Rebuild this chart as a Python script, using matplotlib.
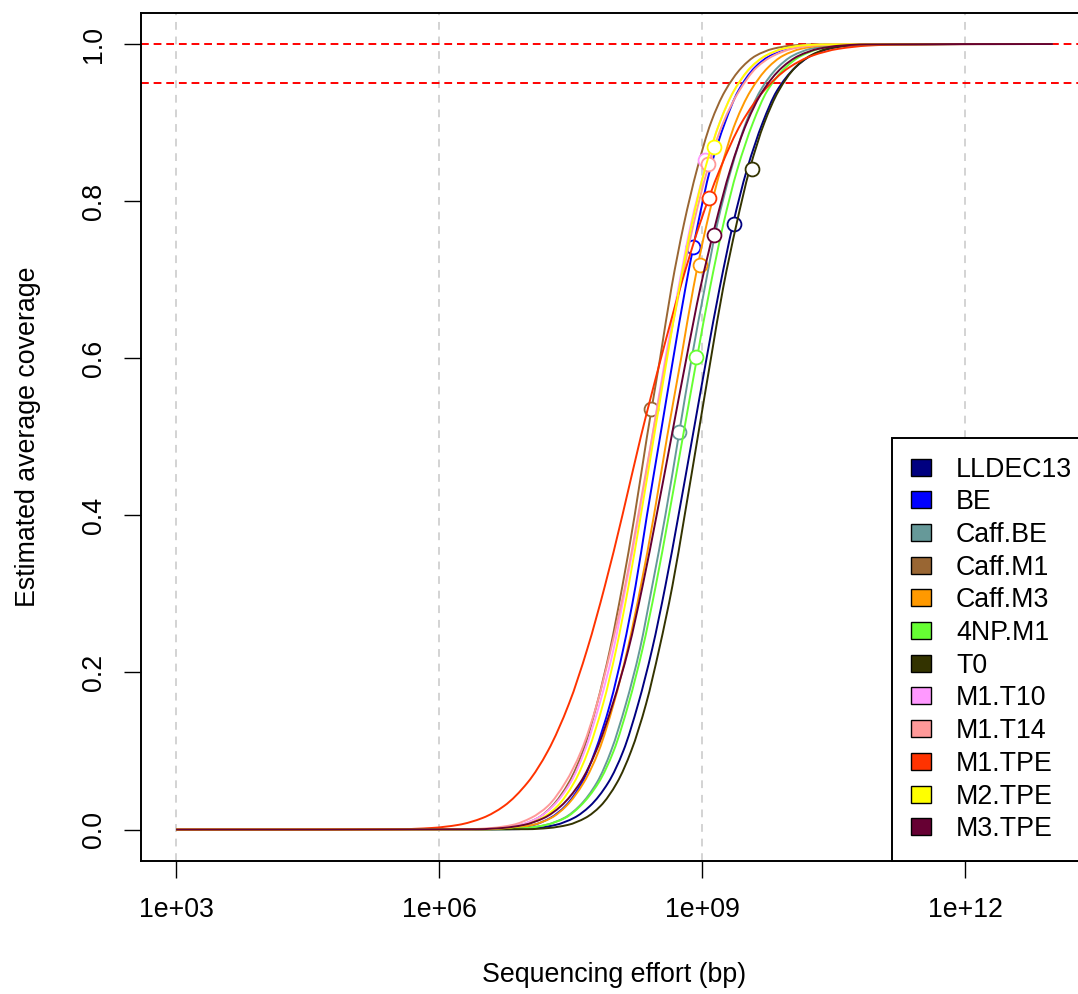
import numpy as np
import matplotlib
matplotlib.use('Agg')
import matplotlib.pyplot as plt
from matplotlib.patches import Patch, PathPatch
from matplotlib.path import Path
from matplotlib.ticker import NullLocator

plt.rcParams['font.family'] = ['Liberation Sans', 'DejaVu Sans']

samples = ['LLDEC13', 'BE', 'Caff.BE', 'Caff.M1', 'Caff.M3', '4NP.M1',
           'T0', 'M1.T10', 'M1.T14', 'M1.TPE', 'M2.TPE', 'M3.TPE']
colours = ['#000080', '#0000FF', '#669999', '#996633', '#FF9900', '#66FF33',
           '#333300', '#FF99FF', '#FF9999', '#FF3300', '#FFFF00', '#660033']

levels = [0.0005, 0.002, 0.006, 0.015, 0.03, 0.06, 0.1, 0.16, 0.23, 0.31, 0.4,
          0.5, 0.6, 0.69, 0.77, 0.84, 0.9, 0.94, 0.97, 0.985, 0.994, 0.998, 0.9995]

lldec13 = [6.85, 7.11, 7.33, 7.54, 7.72, 7.93, 8.10, 8.27, 8.43, 8.58, 8.73, 8.89,
           9.05, 9.20, 9.35, 9.51, 9.69, 9.85, 10.06, 10.24, 10.45, 10.67, 10.93]
be = [6.63, 6.87, 7.08, 7.27, 7.44, 7.63, 7.78, 7.95, 8.10, 8.24, 8.37, 8.52,
      8.67, 8.81, 8.95, 9.09, 9.26, 9.41, 9.60, 9.77, 9.96, 10.18, 10.41]
caff_be = [6.76, 7.00, 7.22, 7.43, 7.60, 7.80, 7.96, 8.13, 8.29, 8.43, 8.58, 8.73,
           8.88, 9.03, 9.17, 9.33, 9.50, 9.66, 9.86, 10.03, 10.24, 10.46, 10.71]
caff_m1 = [6.49, 6.72, 6.93, 7.13, 7.29, 7.48, 7.64, 7.80, 7.95, 8.09, 8.23, 8.37,
           8.52, 8.65, 8.79, 8.94, 9.10, 9.26, 9.45, 9.61, 9.81, 10.02, 10.25]
caff_m3 = [6.59, 6.84, 7.07, 7.28, 7.45, 7.65, 7.82, 7.99, 8.15, 8.30, 8.45, 8.60,
           8.76, 8.90, 9.05, 9.21, 9.38, 9.55, 9.75, 9.92, 10.13, 10.36, 10.61]
np4_m1 = [6.74, 7.00, 7.22, 7.44, 7.61, 7.82, 7.99, 8.16, 8.32, 8.47, 8.62, 8.78,
          8.94, 9.09, 9.24, 9.40, 9.58, 9.74, 9.95, 10.13, 10.34, 10.56, 10.82]
t0 = [7.01, 7.25, 7.47, 7.67, 7.84, 8.03, 8.19, 8.36, 8.51, 8.66, 8.80, 8.95,
      9.10, 9.24, 9.39, 9.54, 9.71, 9.87, 10.06, 10.23, 10.43, 10.65, 10.89]
m1_t10 = [6.46, 6.70, 6.92, 7.13, 7.30, 7.50, 7.66, 7.83, 7.99, 8.13, 8.28, 8.43,
          8.58, 8.73, 8.87, 9.03, 9.20, 9.36, 9.56, 9.73, 9.94, 10.16, 10.41]
m1_t14 = [6.34, 6.60, 6.84, 7.05, 7.24, 7.44, 7.62, 7.80, 7.96, 8.12, 8.27, 8.43,
          8.59, 8.75, 8.90, 9.06, 9.24, 9.42, 9.62, 9.81, 10.03, 10.26, 10.52]
m1_tpe = [5.57, 5.91, 6.22, 6.50, 6.74, 7.01, 7.24, 7.48, 7.69, 7.89, 8.09, 8.30,
          8.53, 8.75, 8.97, 9.20, 9.45, 9.70, 9.99, 10.25, 10.56, 10.89, 11.26]
m2_tpe = [6.53, 6.77, 6.98, 7.18, 7.35, 7.54, 7.70, 7.87, 8.02, 8.16, 8.30, 8.45,
          8.60, 8.74, 8.88, 9.03, 9.20, 9.36, 9.55, 9.72, 9.92, 10.13, 10.38]
m3_tpe = [6.45, 6.72, 6.97, 7.20, 7.39, 7.61, 7.79, 7.98, 8.16, 8.32, 8.48, 8.65,
          8.82, 8.98, 9.15, 9.32, 9.51, 9.69, 9.91, 10.10, 10.33, 10.58, 10.86]
curves = [lldec13, be, caff_be, caff_m1, caff_m3, np4_m1,
          t0, m1_t10, m1_t14, m1_tpe, m2_tpe, m3_tpe]

# observed points (log10 bp, coverage)
obs_effort = [9.36, 8.90, 8.74, 8.42, 8.97, 8.93, 9.57, 9.03, 9.07, 9.08, 9.13, 9.13]
obs_cov = [0.771, 0.742, 0.506, 0.536, 0.719, 0.602, 0.841, 0.852, 0.847, 0.804, 0.869, 0.757]

x_start, x_end = 3.0, 13.0
xticks = [1e3, 1e6, 1e9, 1e12]
xticklabels = ['1e+03', '1e+06', '1e+09', '1e+12']
yticks = [0.0, 0.2, 0.4, 0.6, 0.8, 1.0]

fs = 19.3
lw = 1.4


def smooth_path(lx, ly):
    # monotone cubic (Fritsch-Carlson) drawn as bezier segments in log10-x space
    lx = np.asarray(lx, float)
    ly = np.asarray(ly, float)
    h = np.diff(lx)
    d = np.diff(ly) / h
    m = np.zeros(len(lx))
    for i in range(1, len(lx) - 1):
        if d[i - 1] * d[i] > 0:
            w1 = 2 * h[i] + h[i - 1]
            w2 = h[i] + 2 * h[i - 1]
            m[i] = (w1 + w2) / (w1 / d[i - 1] + w2 / d[i])
    verts = [(lx[0], ly[0])]
    codes = [Path.MOVETO]
    for i in range(len(lx) - 1):
        verts.append((lx[i] + h[i] / 3, ly[i] + m[i] * h[i] / 3))
        verts.append((lx[i + 1] - h[i] / 3, ly[i + 1] - m[i + 1] * h[i] / 3))
        verts.append((lx[i + 1], ly[i + 1]))
        codes += [Path.CURVE4] * 3
    verts = np.array(verts)
    verts[:, 0] = 10 ** verts[:, 0]
    return Path(verts, codes)


fig = plt.figure(figsize=(10.78, 9.94), dpi=100)
ax = fig.add_axes([141/1078, 133/994, 947/1078, 848.4/994])
ax.set_xscale('log')
ax.set_xlim(10**2.6, 10**13.4)
ax.set_ylim(-0.04, 1.04)

for t in xticks:
    ax.axvline(t, color='#D3D3D3', lw=lw, dashes=(4, 3.5), zorder=0)
for hl in [1.0, 0.95]:
    ax.axhline(hl, color='red', lw=lw, dashes=(4, 2.5), zorder=1)

for name, col, xs, ex, cv in zip(samples, colours, curves, obs_effort, obs_cov):
    lx = [x_start] + xs + [x_end]
    ly = [0.0] + levels + [1.0]
    ax.add_patch(PathPatch(smooth_path(lx, ly), facecolor='none', edgecolor=col,
                           lw=lw, zorder=3))
    ax.plot(10**ex, cv, 'o', mfc='white', mec=col, ms=10, mew=1.3, zorder=3)

ax.set_xticks(xticks)
ax.set_xticklabels(xticklabels)
ax.xaxis.set_minor_locator(NullLocator())
ax.set_yticks(yticks)
ax.set_yticklabels(['%.1f' % v for v in yticks], rotation=90, va='center')
ax.tick_params(direction='out', length=12.2, width=1.0, labelsize=fs, color='black')
ax.tick_params(axis='x', pad=14)
ax.tick_params(axis='y', pad=12)
for s in ax.spines.values():
    s.set_linewidth(lw)

ax.set_xlabel('Sequencing effort (bp)', fontsize=fs)
ax.set_ylabel('Estimated average coverage', fontsize=fs)
ax.xaxis.set_label_coords(0.5, -(962 - 861) / 848.4)
ax.yaxis.set_label_coords(-(141 - 41) / 947, 0.5)

handles = [Patch(facecolor=c, edgecolor='black', linewidth=1.0, label=s)
           for s, c in zip(samples, colours)]
leg = ax.legend(handles=handles, loc='lower right', bbox_to_anchor=(1.0 + 3/947, 0.0),
                borderaxespad=0, frameon=True, fancybox=False, edgecolor='black',
                framealpha=1, fontsize=fs, handlelength=0.75, handleheight=0.6,
                handletextpad=0.95, labelspacing=0.25, borderpad=0.7)
leg.get_frame().set_linewidth(lw)
leg.set_zorder(5)

fig.savefig('out.png', dpi=100)
